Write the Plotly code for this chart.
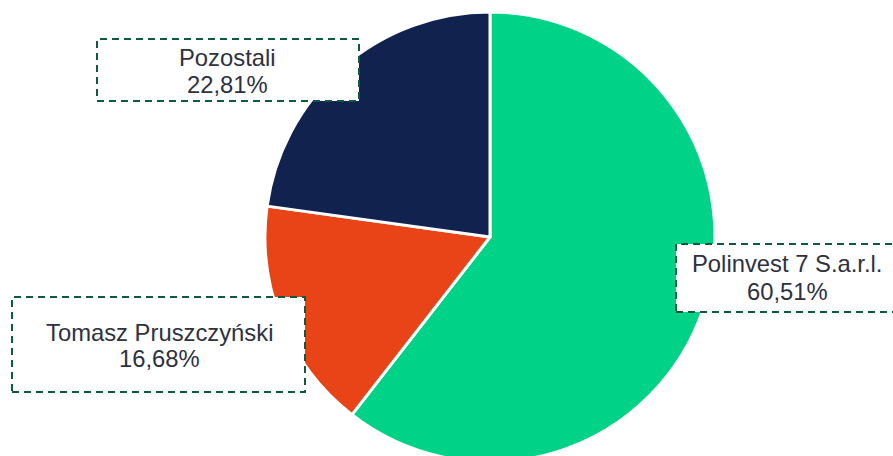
import plotly.graph_objects as go

labels = ["Polinvest 7 S.a.r.l.", "Tomasz Pruszczyński", "Pozostali"]
values = [60.51, 16.68, 22.81]
value_text = ["60,51%", "16,68%", "22,81%"]
colors = ["#00D387", "#E84418", "#12224F"]

W, H = 893, 474

def px(x):
    return x / W

def py(y):
    return 1 - y / H

fig = go.Figure(go.Pie(
    labels=labels, values=values, sort=False, direction="clockwise", rotation=0,
    marker=dict(colors=colors, line=dict(color="white", width=3)),
    textinfo="none", hoverinfo="label+percent", showlegend=False,
    domain=dict(x=[px(265), px(715)], y=[py(462), py(12)]),
))

# label boxes (left, top, right, bottom) and text centers/baselines in pixels
boxes = [(676, 244, 900, 312), (12, 297, 305, 392), (97, 39, 359, 101)]
text_pos = [(787, 272, 300.5), (159, 341, 367), (228, 66, 93)]
fs = 23.8
txt_color = "#2E3140"
shapes = []
annotations = []
for i, (b, t) in enumerate(zip(boxes, text_pos)):
    shapes.append(dict(type="rect", xref="paper", yref="paper",
                       x0=px(b[0]), x1=px(b[2]), y0=py(b[3]), y1=py(b[1]),
                       fillcolor="white", layer="above",
                       line=dict(color="#0E5A3C", width=2, dash="7px,5px")))
    for line_text, base in ((labels[i], t[1]), (value_text[i], t[2])):
        annotations.append(dict(xref="paper", yref="paper", x=px(t[0]), y=py(base - 0.36 * fs),
                                text=line_text, showarrow=False, xanchor="center", yanchor="middle",
                                font=dict(family="Liberation Sans, Arial, sans-serif", size=fs, color=txt_color)))

fig.update_layout(width=W, height=H, autosize=False,
                  margin=dict(l=0, r=0, t=0, b=0),
                  paper_bgcolor="white", plot_bgcolor="white",
                  shapes=shapes, annotations=annotations)
fig.write_html("out.html", config={"displayModeBar": False},
               post_script="document.body.style.margin='0';document.body.style.overflow='hidden';"
                           "document.documentElement.style.overflow='hidden';")
